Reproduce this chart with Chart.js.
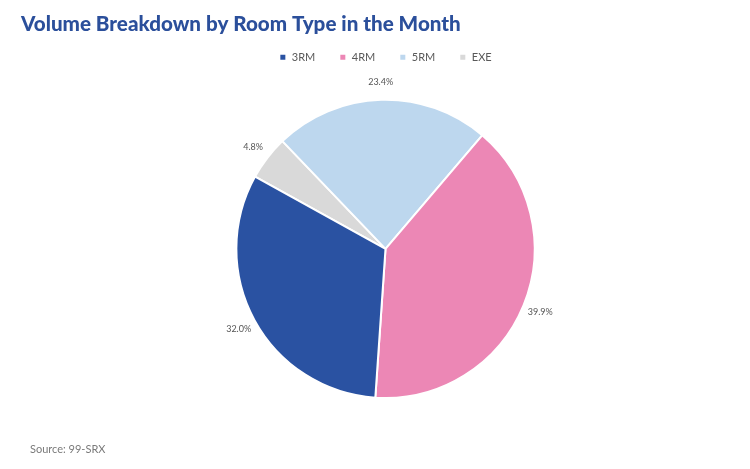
<!DOCTYPE html>
<html>
<head>
<meta charset="utf-8">
<script src="https://cdn.jsdelivr.net/npm/chart.js@4.4.0/dist/chart.umd.min.js"></script>
<style>
  html, body { margin: 0; padding: 0; background: #fff; }
  #wrap { position: relative; width: 750px; height: 469px; }
  #source {
    position: absolute; left: 30px; top: 442px;
    font-family: 'Lato', sans-serif; font-size: 11px; color: #7a7a7a;
  }
</style>
</head>
<body>
<div id="wrap">
  <canvas id="room_plot"></canvas>
  <div id="source">Source: 99-SRX</div>
</div>
<script>
// room types, in legend order
const ROOM_TYPES = ['3RM', '4RM', '5RM', 'EXE'];
const SHARES = [32.0, 39.9, 23.4, 4.8];   // % of volume
const COLOURS = ['#2a52a2', '#ec87b5', '#bdd7ee', '#d9d9d9'];

// the slices run anticlockwise in the picture, so feed them reversed
const LABELS = ROOM_TYPES.slice().reverse();
const DATA = SHARES.slice().reverse();
const BG = COLOURS.slice().reverse();

// push the pie down a bit below the legend
const legendMargin = {
  id: 'legendMargin',
  beforeInit(chart) {
    const fit = chart.legend.fit;
    chart.legend.fit = function () {
      fit.bind(chart.legend)();
      this.height += 26;
    };
  }
};

// percentage labels just outside each slice
const outsideLabels = {
  id: 'outsideLabels',
  afterDatasetsDraw(chart) {
    const ctx = chart.ctx;
    const meta = chart.getDatasetMeta(0);
    ctx.save();
    ctx.font = '9px Lato, sans-serif';
    ctx.fillStyle = '#555';
    ctx.textBaseline = 'middle';
    ctx.textAlign = 'center';
    meta.data.forEach((arc, i) => {
      const mid = (arc.startAngle + arc.endAngle) / 2;
      const r = arc.outerRadius + 18;
      ctx.fillText(DATA[i].toFixed(1) + '%', arc.x + Math.cos(mid) * r, arc.y + Math.sin(mid) * r);
    });
    ctx.restore();
  }
};

let ctx = document.getElementById('room_plot');
window.room_plot = new Chart(ctx, {
  type: 'pie',
  data: {
    labels: LABELS,
    datasets: [{
      data: DATA,
      backgroundColor: BG,
      borderColor: '#ffffff',
      borderWidth: 2,
    }]
  },
  options: {
    responsive: true,
    maintainAspectRatio: false,
    animation: false,
    rotation: -61,
    layout: {
      padding: { left: 21, right: 0, top: 12, bottom: 70 }
    },
    plugins: {
      title: {
        display: true,
        text: 'Volume Breakdown by Room Type in the Month',
        align: 'start',
        color: '#2b4f9b',
        font: { family: 'Lato', size: 20.6, weight: '900' },
        padding: { top: 0, bottom: -9 }
      },
      legend: {
        position: 'top',
        reverse: true,
        labels: {
          boxWidth: 7,
          boxHeight: 7,
          padding: 24,
          color: '#595959',
          font: { family: 'Lato', size: 11 }
        }
      },
      tooltip: { enabled: false }
    }
  },
  plugins: [legendMargin, outsideLabels]
});
</script>
</body>
</html>
